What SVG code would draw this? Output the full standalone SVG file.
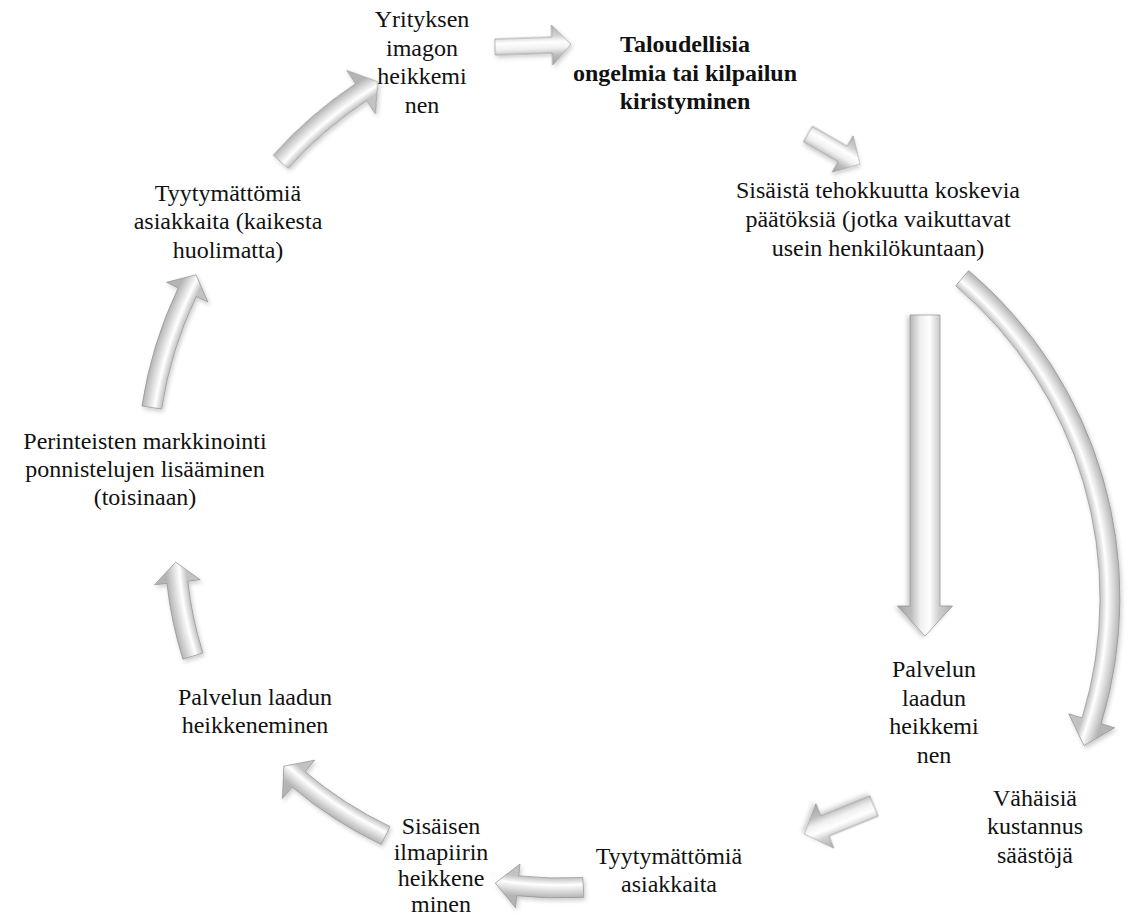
<svg xmlns="http://www.w3.org/2000/svg" width="1133" height="919" viewBox="0 0 1133 919">
<style>
.t{font-family:"Liberation Serif","DejaVu Serif","Times New Roman",serif;font-size:24px;fill:#111;text-anchor:middle}
.b{font-weight:bold}
.arr{stroke:#8f8f8f;stroke-width:0.7;stroke-linejoin:round;filter:url(#sh)}
</style>
<defs>
<filter id="sh" x="-20%" y="-20%" width="140%" height="140%">
<feDropShadow dx="1.5" dy="2.5" stdDeviation="2" flood-color="#000" flood-opacity="0.2"/>
</filter>
<linearGradient id="gl" x1="0" y1="0" x2="0" y2="1">
<stop offset="0" stop-color="#b0b0b0"/>
<stop offset="0.25" stop-color="#cfcfcf"/>
<stop offset="0.42" stop-color="#ffffff"/>
<stop offset="0.58" stop-color="#f0f0f0"/>
<stop offset="0.75" stop-color="#bcbcbc"/>
<stop offset="1" stop-color="#a5a5a5"/>
</linearGradient>
<radialGradient id="g10" gradientUnits="userSpaceOnUse" cx="560" cy="470" r="426"><stop offset="0.953" stop-color="#c2c2c2"/><stop offset="0.9695" stop-color="#ffffff"/><stop offset="1" stop-color="#b4b4b4"/></radialGradient>
<radialGradient id="g9" gradientUnits="userSpaceOnUse" cx="560" cy="470" r="423"><stop offset="0.9527" stop-color="#c2c2c2"/><stop offset="0.9693" stop-color="#ffffff"/><stop offset="1" stop-color="#b4b4b4"/></radialGradient>
<radialGradient id="g8" gradientUnits="userSpaceOnUse" cx="560" cy="540" r="395.5"><stop offset="0.9469" stop-color="#c2c2c2"/><stop offset="0.9655" stop-color="#ffffff"/><stop offset="1" stop-color="#b4b4b4"/></radialGradient>
<radialGradient id="g7" gradientUnits="userSpaceOnUse" cx="560" cy="470" r="415"><stop offset="0.9518" stop-color="#c2c2c2"/><stop offset="0.9687" stop-color="#ffffff"/><stop offset="1" stop-color="#b4b4b4"/></radialGradient>
<radialGradient id="g6" gradientUnits="userSpaceOnUse" cx="560" cy="470" r="428"><stop offset="0.9533" stop-color="#c2c2c2"/><stop offset="0.9696" stop-color="#ffffff"/><stop offset="1" stop-color="#b4b4b4"/></radialGradient>
<radialGradient id="g4" gradientUnits="userSpaceOnUse" cx="690" cy="598" r="430"><stop offset="0.9535" stop-color="#c2c2c2"/><stop offset="0.9698" stop-color="#ffffff"/><stop offset="1" stop-color="#b4b4b4"/></radialGradient>
</defs>
<rect width="1133" height="919" fill="#fff"/>

<g id="connectors">
<polygon class="arr" fill="url(#gl)" points="0,-8 57,-8 57,-20 76,0 57,20 57,8 0,8" transform="translate(495,47) rotate(-2)"/>
<polygon class="arr" fill="url(#gl)" points="0,-9 40,-9 40,-21 60,0 40,21 40,9 0,9" transform="translate(808,134) rotate(30)"/>
<polygon class="arr" fill="url(#gl)" points="0,-15 291,-15 291,-27.5 321,0 291,27.5 291,15 0,15" transform="translate(925,315) rotate(90)"/>
<path class="arr" fill="url(#g4)" d="M968.7,270.6 A430,430 0 0,1 1101.2,723.7 L1114.6,727.8 L1084,745.7 L1068.7,713.8 L1082.1,717.9 A410,410 0 0,0 955.7,285.8 Z"/>
<polygon class="arr" fill="url(#gl)" points="0,-11 53,-11 53,-24 75,0 53,24 53,11 0,11" transform="translate(874,806) rotate(158)"/>
<path class="arr" fill="url(#g6)" d="M583.9,897.3 A428,428 0 0,1 516.7,895.8 L515.5,907.7 L495.3,883.0 L520.0,864.0 L518.8,875.9 A408,408 0 0,0 582.8,877.4 Z"/>
<path class="arr" fill="url(#g7)" d="M381.3,844.6 A415,415 0 0,1 292.1,787.0 L282.5,798.4 L283.8,766.2 L314.7,760.2 L305.0,771.7 A395,395 0 0,0 389.9,826.5 Z"/>
<path class="arr" fill="url(#g8)" d="M182.9,659.2 A395.5,395.5 0 0,1 166.9,583.4 L154.5,584.8 L175.6,562.2 L200.2,579.7 L187.8,581.1 A374.5,374.5 0 0,0 202.9,652.9 Z"/>
<path class="arr" fill="url(#g9)" d="M141.9,406.0 A423,423 0 0,1 178.2,287.9 L166.5,282.3 L196.0,274.8 L208.0,302.1 L196.3,296.5 A403,403 0 0,0 161.6,409.0 Z"/>
<path class="arr" fill="url(#g10)" transform="rotate(-6 280 161)" d="M273.9,154.4 A426,426 0 0,1 363.3,92.1 L355.9,77.9 L385.5,92.4 L379.9,124.1 L372.5,109.9 A406,406 0 0,0 287.3,169.2 Z"/>
</g>

<g id="n-imago"><text class="t"><tspan x="422" y="27">Yrityksen</tspan><tspan x="422" y="55.5">imagon</tspan><tspan x="422" y="84">heikkemi</tspan><tspan x="422" y="112.5">nen</tspan></text></g>
<g id="n-talous"><text class="t b"><tspan x="685" y="52">Taloudellisia</tspan><tspan x="685" y="80.5">ongelmia tai kilpailun</tspan><tspan x="685" y="109">kiristyminen</tspan></text></g>
<g id="n-tehokkuus"><text class="t"><tspan x="878" y="198">Sisäistä tehokkuutta koskevia</tspan><tspan x="878" y="227">päätöksiä (jotka vaikuttavat</tspan><tspan x="878" y="256">usein henkilökuntaan)</tspan></text></g>
<g id="n-palvelu1"><text class="t"><tspan x="934" y="677">Palvelun</tspan><tspan x="934" y="706">laadun</tspan><tspan x="934" y="734">heikkemi</tspan><tspan x="934" y="763">nen</tspan></text></g>
<g id="n-saastot"><text class="t"><tspan x="1035" y="806">Vähäisiä</tspan><tspan x="1035" y="834">kustannus</tspan><tspan x="1035" y="863">säästöjä</tspan></text></g>
<g id="n-tyyt1"><text class="t"><tspan x="669" y="864">Tyytymättömiä</tspan><tspan x="669" y="892">asiakkaita</tspan></text></g>
<g id="n-ilmapiiri"><text class="t"><tspan x="441" y="834">Sisäisen</tspan><tspan x="441" y="860">ilmapiirin</tspan><tspan x="441" y="886">heikkene</tspan><tspan x="441" y="912">minen</tspan></text></g>
<g id="n-palvelu2"><text class="t"><tspan x="255" y="705">Palvelun laadun</tspan><tspan x="255" y="733">heikkeneminen</tspan></text></g>
<g id="n-markkinointi"><text class="t"><tspan x="145" y="449">Perinteisten markkinointi</tspan><tspan x="145" y="477">ponnistelujen lisääminen</tspan><tspan x="145" y="505">(toisinaan)</tspan></text></g>
<g id="n-tyyt2"><text class="t"><tspan x="228" y="201">Tyytymättömiä</tspan><tspan x="228" y="229">asiakkaita (kaikesta</tspan><tspan x="228" y="258">huolimatta)</tspan></text></g>
</svg>
